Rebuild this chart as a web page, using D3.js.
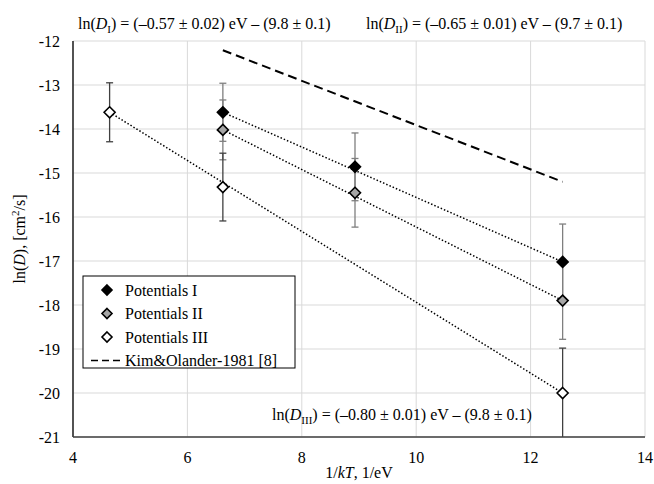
<!DOCTYPE html>
<html>
<head>
<meta charset="utf-8">
<script src="https://cdn.jsdelivr.net/npm/d3@7"></script>
<style>
  body { margin: 0; background: #fff; }
  svg text { font-family: 'Liberation Serif', 'Times New Roman', Times, serif; fill: #000; }
</style>
</head>
<body>
<div id="chart"></div>
<script>
/* values */
const xTicks = [4, 6, 8, 10, 12, 14];
const yTicks = [-12, -13, -14, -15, -16, -17, -18, -19, -20, -21];

const potIx   = [6.62, 8.93, 12.56];
const potIy   = [-13.62, -14.86, -17.02];
const potIerr = [0.66, 0.77, 0.86];

const potIIx   = [6.62, 8.93, 12.56];
const potIIy   = [-14.02, -15.45, -17.90];
const potIIerr = [0.68, 0.78, 0.88];

const potIIIx   = [4.64, 6.62, 12.56];
const potIIIy   = [-13.62, -15.32, -20.0];
const potIIIerr = [0.67, 0.77, 1.02];

const kimX = [6.62, 12.56];
const kimY = [-12.21, -15.2];

// dotted fit lines (end points)
const fitIx   = [6.62, 12.56],  fitIy   = [-13.62, -17.02];
const fitIIx  = [6.62, 12.56],  fitIIy  = [-14.02, -17.90];
const fitIIIx = [4.64, 12.56],  fitIIIy = [-13.62, -20.0];

const legendLabels = ["Potentials I", "Potentials II", "Potentials III", "Kim&Olander-1981 [8]"];

const width = 654, height = 484;
const margin = { top: 41, right: 9, bottom: 47, left: 73 };
const FONT = "'Liberation Serif', 'Times New Roman', Times, serif";

const svg = d3.select("#chart").append("svg")
  .attr("width", width)
  .attr("height", height)
  .attr("font-family", FONT);

const x = d3.scaleLinear([4, 14], [margin.left, width - margin.right]);
const y = d3.scaleLinear([-21, -12], [height - margin.bottom, margin.top]);

const zip = (xs, ys, es) => xs.map((v, i) => ({ x: v, y: ys[i], e: es ? es[i] : 0 }));
const series = [
  { key: "I",   pts: zip(potIx, potIy, potIerr),       fill: "#000",    bar: "#7f7f7f" },
  { key: "II",  pts: zip(potIIx, potIIy, potIIerr),    fill: "#a6a6a6", bar: "#7f7f7f" },
  { key: "III", pts: zip(potIIIx, potIIIy, potIIIerr), fill: "#fff",    bar: "#404040" }
];
const fits = [zip(fitIx, fitIy), zip(fitIIx, fitIIy), zip(fitIIIx, fitIIIy)];

svg.append("clipPath").attr("id", "plot")
  .append("rect")
  .attr("x", margin.left).attr("y", margin.top)
  .attr("width", width - margin.left - margin.right)
  .attr("height", height - margin.top - margin.bottom);

/* grid */
svg.append("g")
  .selectAll("line").data(xTicks).join("line")
    .attr("x1", d => x(d)).attr("x2", d => x(d))
    .attr("y1", margin.top).attr("y2", height - margin.bottom)
    .attr("stroke", "#d9d9d9");
svg.append("g")
  .selectAll("line").data(yTicks).join("line")
    .attr("x1", margin.left).attr("x2", width - margin.right)
    .attr("y1", d => y(d)).attr("y2", d => y(d))
    .attr("stroke", "#d9d9d9");

const plot = svg.append("g").attr("clip-path", "url(#plot)");

/* error bars */
series.forEach(s => {
  const g = plot.append("g").attr("stroke", s.bar).attr("stroke-width", 1.3);
  g.selectAll("line.bar").data(s.pts).join("line")
    .attr("x1", d => x(d.x)).attr("x2", d => x(d.x))
    .attr("y1", d => y(d.y + d.e)).attr("y2", d => y(d.y - d.e));
  [1, -1].forEach(sign => {
    g.append("g").selectAll("line").data(s.pts).join("line")
      .attr("x1", d => x(d.x) - 3.5).attr("x2", d => x(d.x) + 3.5)
      .attr("y1", d => y(d.y + sign * d.e)).attr("y2", d => y(d.y + sign * d.e));
  });
});

const line = d3.line().x(d => x(d.x)).y(d => y(d.y));

/* Kim & Olander dashed */
plot.append("path")
  .datum(zip(kimX, kimY))
  .attr("d", line)
  .attr("fill", "none")
  .attr("stroke", "#000")
  .attr("stroke-width", 2)
  .attr("stroke-dasharray", "9,5");

/* dotted fits */
plot.append("g").selectAll("path").data(fits).join("path")
  .attr("d", line)
  .attr("fill", "none")
  .attr("stroke", "#000")
  .attr("stroke-width", 1.5)
  .attr("stroke-dasharray", "1.5,2");

/* diamond markers */
const diamond = (cx, cy, r) => `M${cx},${cy - r}L${cx + r},${cy}L${cx},${cy + r}L${cx - r},${cy}Z`;
series.forEach(s => {
  svg.append("g").selectAll("path").data(s.pts).join("path")
    .attr("d", d => diamond(x(d.x), y(d.y), 5.5))
    .attr("fill", s.fill)
    .attr("stroke", "#000")
    .attr("stroke-width", 1.6);
});

/* axes lines */
svg.append("line")
  .attr("x1", margin.left).attr("x2", margin.left)
  .attr("y1", margin.top).attr("y2", height - margin.bottom)
  .attr("stroke", "#000").attr("stroke-width", 1.3);
svg.append("line")
  .attr("x1", margin.left).attr("x2", width - margin.right)
  .attr("y1", height - margin.bottom).attr("y2", height - margin.bottom)
  .attr("stroke", "#404040").attr("stroke-width", 1.3);

/* tick labels */
svg.append("g").selectAll("text").data(yTicks).join("text")
  .attr("x", margin.left - 13)
  .attr("y", d => y(d) + 5.5)
  .attr("text-anchor", "end")
  .attr("font-size", 16)
  .text(d => d);
svg.append("g").selectAll("text").data(xTicks).join("text")
  .attr("x", d => x(d))
  .attr("y", height - margin.bottom + 26)
  .attr("text-anchor", "middle")
  .attr("font-size", 16)
  .text(d => d);

/* axis titles */
const xt = svg.append("text")
  .attr("x", (margin.left + width - margin.right) / 2)
  .attr("y", height - 6)
  .attr("text-anchor", "middle")
  .attr("font-size", 16);
xt.append("tspan").text("1/");
xt.append("tspan").attr("font-style", "italic").text("kT");
xt.append("tspan").text(", 1/eV");

const yt = svg.append("text")
  .attr("transform", `translate(25,${(margin.top + height - margin.bottom) / 2}) rotate(-90)`)
  .attr("text-anchor", "middle")
  .attr("font-size", 16);
yt.append("tspan").text("ln(");
yt.append("tspan").attr("font-style", "italic").text("D");
yt.append("tspan").text("), [cm");
yt.append("tspan").attr("font-size", 11).attr("dy", -6).text("2");
yt.append("tspan").attr("dy", 6).text("/s]");

/* equations */
function equation(xp, yp, sub, body) {
  const t = svg.append("text").attr("x", xp).attr("y", yp).attr("font-size", 16);
  t.append("tspan").text("ln(");
  t.append("tspan").attr("font-style", "italic").text("D");
  t.append("tspan").attr("font-size", 11).attr("dy", 4).text(sub);
  t.append("tspan").attr("dy", -4).text(") = " + body);
}
equation(78, 29, "I", "(\u20130.57 \u00b1 0.02) eV \u2013 (9.8 \u00b1 0.1)");
equation(366, 29, "II", "(\u20130.65 \u00b1 0.01) eV \u2013 (9.7 \u00b1 0.1)");
equation(272, 420, "III", "(\u20130.80 \u00b1 0.01) eV \u2013 (9.8 \u00b1 0.1)");

/* legend */
const lx = 83, ly = 276;
const legend = svg.append("g").attr("transform", `translate(${lx},${ly})`);
legend.append("rect")
  .attr("width", 212).attr("height", 92)
  .attr("fill", "#fff").attr("stroke", "#000").attr("stroke-width", 1);
const fills = ["#000", "#a6a6a6", "#fff"];
legendLabels.forEach((lab, i) => {
  const cy = 14 + i * 23.5;
  if (i < 3) {
    legend.append("path")
      .attr("d", diamond(24, cy, 5))
      .attr("fill", fills[i]).attr("stroke", "#000").attr("stroke-width", 1.6);
  } else {
    legend.append("line")
      .attr("x1", 8).attr("x2", 40).attr("y1", cy).attr("y2", cy)
      .attr("stroke", "#000").attr("stroke-width", 1.6).attr("stroke-dasharray", "7,4");
  }
  legend.append("text")
    .attr("x", 42).attr("y", cy + 5.5)
    .attr("font-size", 16)
    .text(lab);
});
</script>
</body>
</html>
